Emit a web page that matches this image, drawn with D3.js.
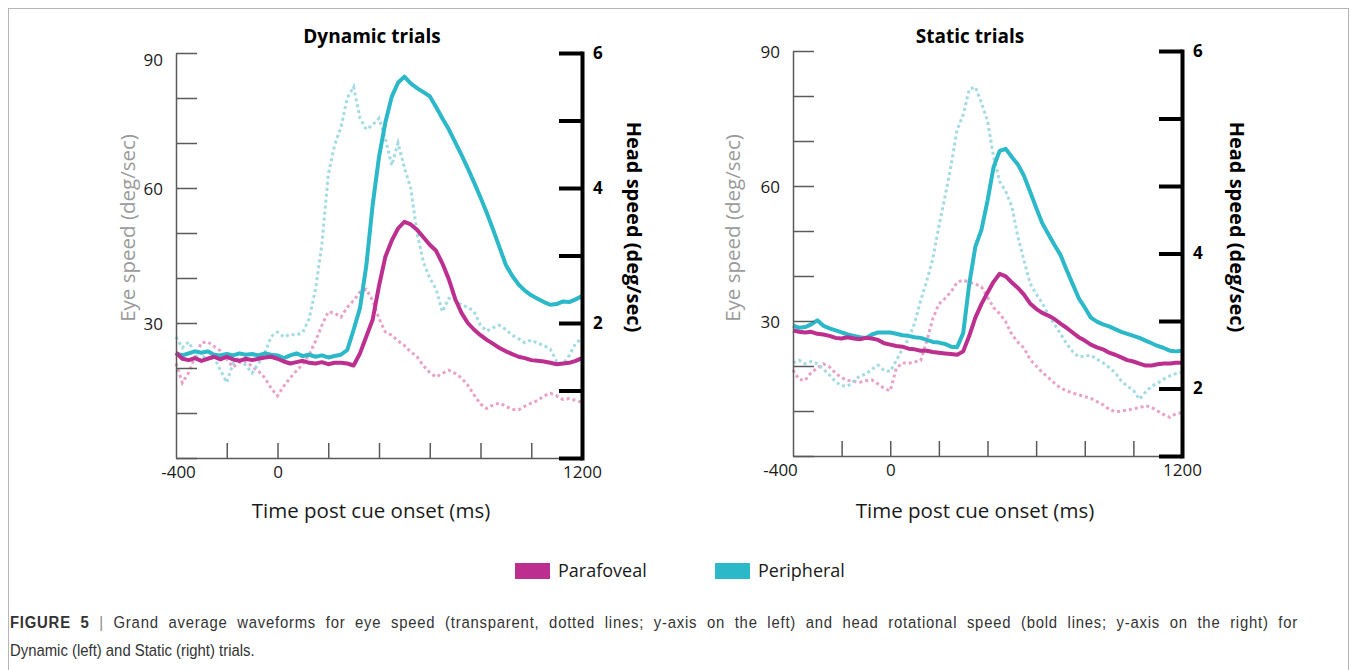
<!DOCTYPE html>
<html>
<head>
<meta charset="utf-8">
<script src="https://cdn.jsdelivr.net/npm/d3@7"></script>
<style>
    body { margin: 0; background: #fff; }
    text { font-family: "Open Sans", "DejaVu Sans", sans-serif; }
    text.caption { font-family: "Liberation Sans Narrow", "Liberation Sans", sans-serif; }
</style>
</head>
<body>
<div id="chart"></div>
<script>
(function() {

    var width = 1356;
    var height = 670;

    // time axis (ms post cue onset), one sample every 25 ms
    var timeMs = [-400, -375, -350, -325, -300, -275, -250, -225, -200, -175, -150, -125, -100, -75, -50, -25, 0,
        25, 50, 75, 100, 125, 150, 175, 200, 225, 250,
        275, 300, 325, 350, 375, 400, 425, 450, 475, 500,
        525, 550, 575, 600, 625, 650, 675, 700, 725, 750,
        775, 800, 825, 850, 875, 900, 925, 950, 975, 1000,
        1025, 1050, 1075, 1100, 1125, 1150, 1175, 1200];

    // Dynamic trials, eye speed (deg/sec, left axis)
    var dynamicEyePara = [21.0, 16.7, 19.0, 22.5, 25.6, 25.8, 24.8, 23.8, 22.0, 20.2, 21.3, 21.5, 20.3, 19.3, 17.8, 15.5, 13.8,
        16.0, 17.8, 19.4, 20.8, 23.0, 26.0, 29.5, 32.5, 32.2, 31.3,
        33.5, 35.0, 36.9, 37.5, 35.0, 31.0, 28.0, 27.3, 26.0, 25.0,
        23.6, 22.5, 20.5, 19.0, 18.0, 18.8, 19.5, 18.8, 17.8, 16.2,
        14.0, 12.0, 11.0, 11.8, 12.2, 11.5, 10.8, 10.7, 11.5, 12.2,
        12.8, 13.8, 14.4, 13.8, 13.0, 13.2, 12.8, 12.4];
    var dynamicEyePeri = [26.9, 24.5, 25.8, 23.0, 21.5, 24.0, 22.5, 19.5, 16.8, 21.0, 22.4, 20.5, 18.9, 21.0, 23.3, 27.0, 28.0,
        26.9, 27.5, 27.3, 28.0, 31.0, 37.5, 47.5, 63.0, 69.5, 73.5,
        80.0, 82.5, 75.5, 73.0, 74.0, 75.5, 71.0, 65.0, 70.0, 64.5,
        60.0, 50.0, 43.5, 40.0, 37.5, 32.5, 35.5, 35.0, 34.0, 33.5,
        32.5, 29.5, 28.2, 29.0, 29.5, 28.5, 27.3, 26.5, 25.6, 26.2,
        25.5, 25.0, 24.2, 21.5, 20.8, 22.8, 25.5, 26.5];

    // Dynamic trials, head speed (deg/sec, right axis)
    var dynamicHeadPara = [1.56, 1.47, 1.45, 1.48, 1.44, 1.47, 1.50, 1.46, 1.50, 1.46, 1.44, 1.47, 1.45, 1.47, 1.49, 1.50, 1.47,
        1.43, 1.40, 1.42, 1.44, 1.41, 1.40, 1.42, 1.39, 1.41, 1.41,
        1.40, 1.37, 1.55, 1.80, 2.05, 2.55, 2.98, 3.22, 3.40, 3.50,
        3.46, 3.38, 3.27, 3.16, 3.07, 2.88, 2.65, 2.36, 2.15, 2.00,
        1.90, 1.82, 1.75, 1.69, 1.63, 1.58, 1.54, 1.50, 1.48, 1.45,
        1.44, 1.43, 1.41, 1.39, 1.40, 1.41, 1.44, 1.48];
    var dynamicHeadPeri = [1.55, 1.52, 1.55, 1.58, 1.56, 1.58, 1.53, 1.52, 1.54, 1.52, 1.55, 1.53, 1.54, 1.52, 1.55, 1.53, 1.52,
        1.48, 1.52, 1.55, 1.51, 1.53, 1.50, 1.52, 1.49, 1.51, 1.53,
        1.60, 1.90, 2.22, 2.85, 3.75, 4.46, 4.97, 5.35, 5.56, 5.65,
        5.55, 5.48, 5.42, 5.36, 5.20, 5.03, 4.87, 4.68, 4.49, 4.29,
        4.08, 3.86, 3.63, 3.38, 3.12, 2.86, 2.70, 2.57, 2.48, 2.41,
        2.36, 2.31, 2.27, 2.28, 2.32, 2.31, 2.35, 2.40];

    // Static trials, eye speed
    var staticEyePara = [19.1, 17.0, 16.8, 18.6, 19.5, 20.5, 19.8, 18.4, 17.4, 16.8, 16.6, 16.4, 16.7, 16.9, 16.0, 15.0, 14.5,
        19.5, 20.7, 20.6, 20.9, 21.2, 25.5, 30.5, 33.8, 35.0, 36.5,
        38.6, 39.1, 38.6, 38.2, 37.6, 35.3, 33.0, 31.6, 29.8, 27.0,
        25.3, 24.0, 21.5, 20.0, 18.6, 17.4, 16.2, 15.1, 14.5, 14.0,
        13.6, 13.2, 12.8, 12.1, 11.4, 10.4, 9.8, 10.0, 10.2, 10.5,
        10.7, 11.2, 10.8, 10.0, 9.2, 8.6, 9.4, 9.6];
    var staticEyePeri = [20.7, 21.3, 20.5, 21.0, 20.5, 19.3, 18.0, 16.5, 15.6, 15.5, 16.7, 17.8, 18.2, 19.3, 20.2, 19.0, 18.8,
        21.2, 23.8, 26.0, 29.5, 34.5, 38.9, 43.8, 51.0, 57.6, 64.5,
        72.5, 75.8, 81.5, 82.0, 78.5, 74.5, 66.5, 61.0, 58.8, 55.5,
        48.7, 43.5, 38.4, 36.0, 34.0, 31.5, 29.3, 27.2, 25.0, 23.2,
        22.0, 22.2, 22.4, 21.5, 20.7, 19.7, 18.5, 16.7, 15.5, 14.6,
        12.6, 14.2, 15.5, 16.2, 17.1, 17.8, 18.3, 18.7];

    // Static trials, head speed (in tick units of the right axis)
    var staticHeadPara = [1.86, 1.84, 1.83, 1.84, 1.81, 1.80, 1.78, 1.75, 1.74, 1.76, 1.74, 1.73, 1.75, 1.74, 1.72, 1.67, 1.65,
        1.63, 1.62, 1.59, 1.58, 1.56, 1.56, 1.54, 1.53, 1.52, 1.51,
        1.50, 1.55, 1.78, 2.05, 2.25, 2.42, 2.58, 2.70, 2.66, 2.57,
        2.49, 2.39, 2.26, 2.18, 2.12, 2.08, 2.03, 1.96, 1.90, 1.83,
        1.76, 1.71, 1.65, 1.61, 1.58, 1.53, 1.50, 1.46, 1.42, 1.40,
        1.37, 1.34, 1.34, 1.36, 1.37, 1.37, 1.38, 1.38];
    var staticHeadPeri = [1.93, 1.90, 1.91, 1.95, 2.01, 1.93, 1.89, 1.86, 1.83, 1.80, 1.78, 1.76, 1.75, 1.80, 1.83, 1.83, 1.83,
        1.81, 1.79, 1.78, 1.76, 1.75, 1.72, 1.69, 1.68, 1.66, 1.62,
        1.61, 1.82, 2.55, 3.10, 3.35, 3.78, 4.28, 4.52, 4.55, 4.43,
        4.32, 4.15, 3.92, 3.68, 3.45, 3.29, 3.13, 2.98, 2.76, 2.55,
        2.34, 2.20, 2.05, 1.99, 1.95, 1.92, 1.88, 1.84, 1.81, 1.78,
        1.75, 1.71, 1.67, 1.63, 1.60, 1.56, 1.55, 1.56];

    var eyeTicks = [0, 10, 20, 30, 40, 50, 60, 70, 80, 90];
    var eyeTickLabels = [30, 60, 90];
    var timeTicks = [-400, -200, 0, 200, 400, 600, 800, 1000, 1200];
    var timeTickLabels = [-400, 0, 1200];
    var headTicks = [0, 1, 2, 3, 4, 5, 6];
    var dynamicHeadLabels = ["", "", "2", "", "4", "", "6"];
    var staticHeadLabels = ["", "2", "", "4", "", "", "6"];

    var titles = ["Dynamic trials", "Static trials"];
    var groups = ["Parafoveal", "Peripheral"];
    var colors = ["#bd2f8f", "#2bb8c8"];
    var lightColors = ["#e7a2c9", "#a2dbe4"];

    var captionLines = [
        "Grand average waveforms for eye speed (transparent, dotted lines; y-axis on the left) and head rotational speed (bold lines; y-axis on the right) for",
        "Dynamic (left) and Static (right) trials."
    ];

    var panels = [
        {title: titles[0], left: 176, right: 582, top: 53, bottom: 458,
            eye: [dynamicEyePara, dynamicEyePeri], head: [dynamicHeadPara, dynamicHeadPeri],
            headLabels: dynamicHeadLabels, eyeLabelX: 128, headLabelX: 634, titleX: 372, xLabelX: 371, startDx: 2, topDy: 6},
        {title: titles[1], left: 793, right: 1182, top: 51, bottom: 456,
            eye: [staticEyePara, staticEyePeri], head: [staticHeadPara, staticHeadPeri],
            headLabels: staticHeadLabels, eyeLabelX: 733, headLabelX: 1237, titleX: 970, xLabelX: 975, startDx: -13, topDy: 0}
    ];

    var svg = d3.select("#chart")
        .append("svg")
        .attr("width", width)
        .attr("height", height);

    svg.append("rect")
        .attr("x", 8.5).attr("y", 8.5)
        .attr("width", 1340).attr("height", 700)
        .attr("fill", "none")
        .attr("stroke", "#b5b5b5");

    panels.forEach(drawPanel);

    function drawPanel(p) {

        var x = d3.scaleLinear().domain([-400, 1200]).range([p.left, p.right]);
        var yEye = d3.scaleLinear().domain([0, 90]).range([p.bottom, p.top]);
        var yHead = d3.scaleLinear().domain([0, 6]).range([p.bottom, p.top]);

        var g = svg.append("g");

        // eye speed: light dotted lines
        var eyeLine = d3.line()
            .x(function (d, i) { return x(timeMs[i]); })
            .y(function (d) { return yEye(d); });
        p.eye.forEach(function (values, k) {
            g.append("path")
                .attr("d", eyeLine(values))
                .attr("fill", "none")
                .attr("stroke", lightColors[k])
                .attr("stroke-width", 3)
                .attr("stroke-dasharray", "3,3");
        });

        // head speed: bold lines
        var headLine = d3.line()
            .x(function (d, i) { return x(timeMs[i]); })
            .y(function (d) { return yHead(d); });
        [1, 0].forEach(function (k) {
            g.append("path")
                .attr("d", headLine(p.head[k]))
                .attr("fill", "none")
                .attr("stroke", colors[k])
                .attr("stroke-width", 4)
                .attr("stroke-linejoin", "round");
        });

        var eyeAxis = g.append("g")
            .attr("transform", "translate(" + p.left + ",0)")
            .call(d3.axisLeft(yEye)
                .tickValues(eyeTicks)
                .tickSize(-21)
                .tickSizeOuter(0)
                .tickPadding(13)
                .tickFormat(function (d) { return eyeTickLabels.indexOf(d) >= 0 ? d : ""; }));
        eyeAxis.selectAll(".tick text")
            .attr("dy", function (d) { return d === 90 ? p.topDy + 6 : 6; });

        var timeAxis = g.append("g")
            .attr("transform", "translate(0," + p.bottom + ")")
            .call(d3.axisBottom(x)
                .tickValues(timeTicks)
                .tickSize(-15)
                .tickSizeOuter(0)
                .tickPadding(8)
                .tickFormat(function (d) { return timeTickLabels.indexOf(d) >= 0 ? d : ""; }));
        timeAxis.selectAll(".tick text")
            .attr("dx", function (d) { return d === -400 ? p.startDx : 0; });

        [eyeAxis, timeAxis].forEach(function (a) {
            a.select(".domain").attr("stroke", "#5a5a5a").attr("stroke-width", 1.5);
            a.selectAll(".tick line").attr("stroke", "#5a5a5a").attr("stroke-width", 1.5);
            a.selectAll(".tick text").attr("fill", "#1a1a1a").style("font-size", "17px");
        });
        timeAxis.selectAll(".tick").filter(function (d) { return d === -400 || d === 1200; })
            .select("line").remove();

        var headAxis = g.append("g")
            .attr("transform", "translate(" + p.right + ",0)")
            .call(d3.axisRight(yHead)
                .tickValues(headTicks)
                .tickSize(-23)
                .tickSizeOuter(0)
                .tickPadding(11)
                .tickFormat(function (d) { return p.headLabels[d]; }));
        headAxis.select(".domain").attr("stroke", "#000").attr("stroke-width", 4).attr("stroke-linecap", "square");
        headAxis.selectAll(".tick line").attr("stroke", "#000").attr("stroke-width", 4);
        headAxis.selectAll(".tick text")
            .attr("fill", "#000")
            .style("font-size", "17px")
            .style("font-weight", "bold");

        g.append("text")
            .attr("x", p.titleX).attr("y", 43)
            .attr("text-anchor", "middle")
            .style("font-size", "19px")
            .style("font-weight", "bold")
            .text(p.title);

        g.append("text")
            .attr("transform", "translate(" + p.eyeLabelX + "," + 228 + ") rotate(-90)")
            .attr("text-anchor", "middle")
            .attr("dy", "0.35em")
            .attr("fill", "#9a9a9a")
            .style("font-size", "20.5px")
            .text("Eye speed (deg/sec)");

        g.append("text")
            .attr("transform", "translate(" + p.headLabelX + "," + 227 + ") rotate(90)")
            .attr("text-anchor", "middle")
            .attr("dy", "0.35em")
            .attr("fill", "#000")
            .style("font-size", "20px")
            .style("font-weight", "bold")
            .text("Head speed (deg/sec)");

        g.append("text")
            .attr("x", p.xLabelX).attr("y", 518)
            .attr("text-anchor", "middle")
            .attr("fill", "#1a1a1a")
            .style("font-size", "20.5px")
            .text("Time post cue onset (ms)");
    }

    // legend
    var legend = svg.append("g").selectAll("g")
        .data(groups)
        .enter().append("g")
        .attr("transform", function (d, i) { return "translate(" + (515 + i * 200) + ",563)"; });
    legend.append("rect")
        .attr("width", 35).attr("height", 16)
        .attr("fill", function (d, i) { return colors[i]; });
    legend.append("text")
        .attr("x", 43).attr("y", 8)
        .attr("dy", "0.35em")
        .attr("fill", "#1a1a1a")
        .style("font-size", "18px")
        .text(function (d) { return d; });

    // caption: narrow type, first line justified to the frame width
    var squeeze = 0.875;
    var caption = svg.append("g")
        .attr("transform", "translate(10,0) scale(" + squeeze + ",1)")
        .attr("fill", "#333");
    var line1 = caption.append("text")
        .attr("class", "caption")
        .attr("x", 0).attr("y", 628)
        .style("font-size", "17px");
    line1.append("tspan").style("font-weight", "bold").text("FIGURE 5");
    line1.append("tspan").attr("fill", "#888").text(" | ");
    line1.append("tspan").text(captionLines[0]);
    var full = "FIGURE 5 | " + captionLines[0];
    var extra = Math.max(0, 1288 / squeeze - line1.node().getComputedTextLength());
    var gaps = (full.match(/ /g) || []).length;
    line1.style("letter-spacing", (extra * 0.5 / full.length) + "px")
        .style("word-spacing", (extra * 0.5 / gaps) + "px");
    caption.append("text")
        .attr("class", "caption")
        .attr("x", 0).attr("y", 656)
        .style("font-size", "17px")
        .text(captionLines[1]);

})();
</script>
</body>
</html>
